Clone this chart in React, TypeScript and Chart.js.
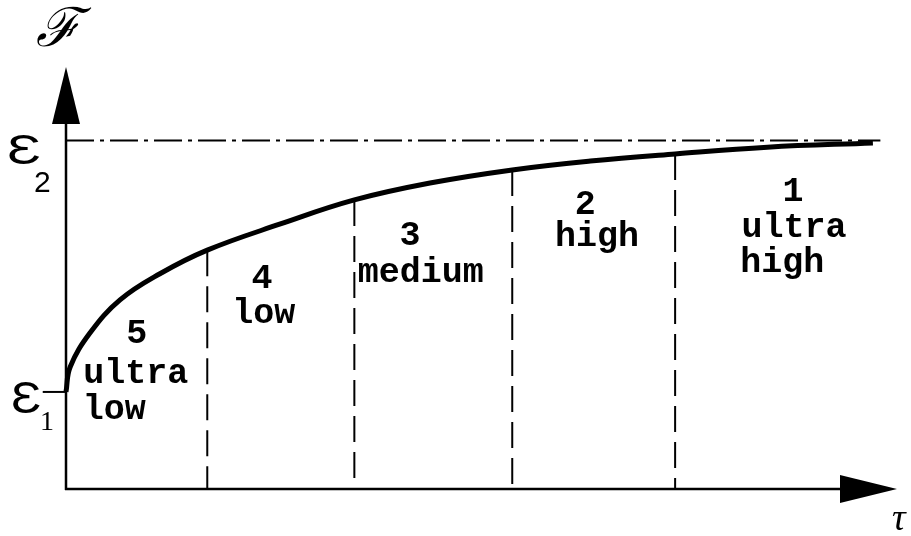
import React, { useEffect, useRef } from "react";
import { Chart, registerables } from "chart.js";

Chart.register(...registerables);

// Curve F(τ), in axis units (τ: 0..10, F: 0..10)
const curveX = [0, 0.05, 0.29, 0.65, 1.13, 1.7, 2.58, 3.47, 4.38, 5.37, 6.31, 7.33, 8.44, 9.71];
const curveY = [2.3, 2.89, 3.7, 4.48, 5.1, 5.66, 6.28, 6.85, 7.25, 7.56, 7.77, 7.94, 8.1, 8.2];

// Levels
const eps1 = 2.3;
const eps2 = 8.26;
const asymptoteEnd = 9.8;
const eps1TickStart = -0.28;

// Zone boundaries (dashed verticals) and where they meet the curve
const boundaryX = [1.7, 3.47, 5.37, 7.33];
const boundaryTop = [5.66, 6.85, 7.56, 7.94];

// Zone labels: text, x, baseline y
const labelText = ["5", "ultra", "low", "4", "low", "3", "medium", "2", "high", "1", "ultra", "high"];
const labelX = [0.85, 0.84, 0.58, 2.36, 2.38, 4.14, 4.27, 6.25, 6.39, 8.75, 8.76, 8.62];
const labelY = [3.46, 2.51, 1.66, 4.76, 3.93, 5.78, 4.91, 6.52, 5.76, 6.82, 5.97, 5.14];

const axisMin = 0;
const axisMax = 10;

const overlay = {
  id: "overlay",
  afterDatasetsDraw(chart: any) {
    const ctx = chart.ctx;
    const xs = chart.scales.x;
    const ys = chart.scales.y;
    const x0 = xs.getPixelForValue(axisMin);
    const y0 = ys.getPixelForValue(axisMin);
    const xTip = xs.getPixelForValue(axisMax);
    const yTip = ys.getPixelForValue(axisMax);
    const arrowLen = 57;
    const arrowHalf = 14;
    ctx.save();
    ctx.strokeStyle = "#000";
    ctx.fillStyle = "#000";
    ctx.lineWidth = 2.5;
    ctx.beginPath();
    ctx.moveTo(x0, y0 + 1);
    ctx.lineTo(x0, yTip + arrowLen);
    ctx.moveTo(x0 - 1, y0);
    ctx.lineTo(xTip - arrowLen, y0);
    ctx.stroke();
    // arrows
    ctx.beginPath();
    ctx.moveTo(x0, yTip);
    ctx.lineTo(x0 - arrowHalf, yTip + arrowLen);
    ctx.lineTo(x0 + arrowHalf, yTip + arrowLen);
    ctx.closePath();
    ctx.fill();
    ctx.beginPath();
    ctx.moveTo(xTip, y0);
    ctx.lineTo(xTip - arrowLen, y0 - arrowHalf);
    ctx.lineTo(xTip - arrowLen, y0 + arrowHalf);
    ctx.closePath();
    ctx.fill();

    // zone labels
    ctx.textAlign = "center";
    ctx.textBaseline = "alphabetic";
    ctx.font = "bold 35px 'Liberation Mono', 'Courier New', monospace";
    for (let i = 0; i < labelText.length; i++) {
      ctx.fillText(labelText[i], xs.getPixelForValue(labelX[i]), ys.getPixelForValue(labelY[i]));
    }

    // axis symbols
    ctx.textAlign = "left";
    const e2y = ys.getPixelForValue(eps2);
    const e1y = ys.getPixelForValue(eps1);
    ctx.font = "42px 'Liberation Sans', sans-serif";
    ctx.save();
    ctx.translate(7, e2y + 24);
    ctx.scale(1.35, 1);
    ctx.fillText("Ɛ", 0, 0);
    ctx.restore();
    ctx.save();
    ctx.translate(11, e1y + 21);
    ctx.scale(1.2, 1.05);
    ctx.fillText("Ɛ", 0, 0);
    ctx.restore();
    ctx.font = "30px 'Liberation Sans', sans-serif";
    ctx.fillText("2", 34, e2y + 52);
    ctx.font = "28px 'Liberation Serif', serif";
    ctx.fillText("1", 40, e1y + 38);
    ctx.font = "italic 54px 'DejaVu Serif', serif";
    ctx.fillText("ℱ", 36, 46);
    ctx.font = "italic 38px 'Liberation Serif', serif";
    ctx.fillText("τ", 892, 530);
    ctx.restore();
  },
};

export default function App() {
  const ref = useRef<HTMLCanvasElement>(null);
  useEffect(() => {
    const canvas = ref.current;
    if (!canvas) return;
    const curve = curveX.map((x, i) => ({ x, y: curveY[i] }));
    const datasets: any[] = [
      {
        data: curve,
        borderColor: "#000",
        borderWidth: 5,
        pointRadius: 0,
        tension: 0.4,
        borderCapStyle: "butt",
        clip: false,
      },
      {
        data: [
          { x: axisMin, y: eps2 },
          { x: asymptoteEnd, y: eps2 },
        ],
        borderColor: "#000",
        borderWidth: 2,
        borderDash: [28, 6, 4, 6],
        pointRadius: 0,
        clip: false,
      },
      {
        data: [
          { x: eps1TickStart, y: eps1 },
          { x: axisMin, y: eps1 },
        ],
        borderColor: "#000",
        borderWidth: 2,
        pointRadius: 0,
        clip: false,
      },
      ...boundaryX.map((bx, i) => ({
        data: [
          { x: bx, y: boundaryTop[i] },
          { x: bx, y: axisMin },
        ],
        borderColor: "#000",
        borderWidth: 2,
        borderDash: [26, 10],
        pointRadius: 0,
        clip: false,
      })),
    ];
    const chart = new Chart(canvas, {
      type: "line",
      data: { datasets },
      options: {
        animation: false,
        responsive: false,
        maintainAspectRatio: false,
        layout: { padding: { left: 66, right: 14, top: 67, bottom: 47 } },
        plugins: { legend: { display: false }, tooltip: { enabled: false } },
        scales: {
          x: { type: "linear", min: axisMin, max: axisMax, display: false },
          y: { type: "linear", min: axisMin, max: axisMax, display: false },
        },
      },
      plugins: [overlay],
    });
    return () => chart.destroy();
  }, []);
  return (
    <div style={{ position: "fixed", left: 0, top: 0, width: 911, height: 536, background: "#fff" }}>
      <canvas ref={ref} width={911} height={536} />
    </div>
  );
}
